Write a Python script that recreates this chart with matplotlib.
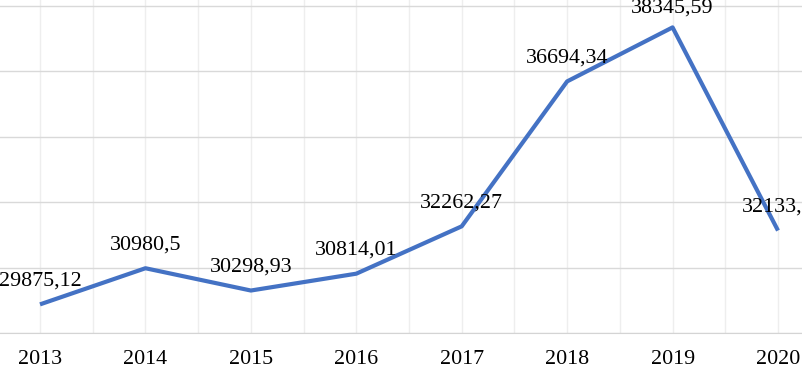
import matplotlib
matplotlib.use("Agg")
import matplotlib.pyplot as plt
import numpy as np

years = [2013, 2014, 2015, 2016, 2017, 2018, 2019, 2020]
values = [29875.12, 30980.5, 30298.93, 30814.01, 32262.27, 36694.34, 38345.59, 32133.1]
labels = ["29875,12", "30980,5", "30298,93", "30814,01", "32262,27", "36694,34", "38345,59", "32133,1"]

plt.rcParams['font.family'] = ['Liberation Serif', 'DejaVu Serif']

W, H = 802, 366
fig = plt.figure(figsize=(W/100, H/100), dpi=100)
ax = fig.add_axes([0, 33/H, 1, 333/H])

px_per_year = (778 - 40) / 7
xl = 2013 - 40/px_per_year
xr = 2020 + (W - 778)/px_per_year
ax.set_xlim(xl, xr)
ax.set_ylim(29000, 39000 + 6/32.7*1000)

ax.set_yticks(np.arange(29000, 39001, 2000))
ax.set_xticks(years)
ax.set_xticks(np.arange(2013.5, 2020.5, 1.0), minor=True)
ax.grid(axis='y', color='#d9d9d9', linewidth=1.0)
ax.grid(axis='x', which='both', color='#eeeeee', linewidth=1.0)
ax.set_axisbelow(True)
for s in ['top', 'right', 'left']:
    ax.spines[s].set_visible(False)
ax.spines['bottom'].set_color('#d4d4d4')
ax.tick_params(axis='both', which='both', length=0)
ax.set_yticklabels([])
ax.set_xticklabels([str(y) for y in years], fontsize=15.8)
ax.tick_params(axis='x', pad=12)

ax.plot(years, values, color='#4472C4', linewidth=3, solid_capstyle='butt', zorder=3)

offsets = [17, 17, 17, 17, 17, 17, 14, 17]
for x, v, t, o in zip(years, values, labels, offsets):
    ax.annotate(t, (x, v), xytext=(0, o), textcoords='offset points',
                ha='center', va='center', fontsize=15.8, color='black',
                annotation_clip=False, zorder=4)

fig.savefig('out.png', dpi=100)
